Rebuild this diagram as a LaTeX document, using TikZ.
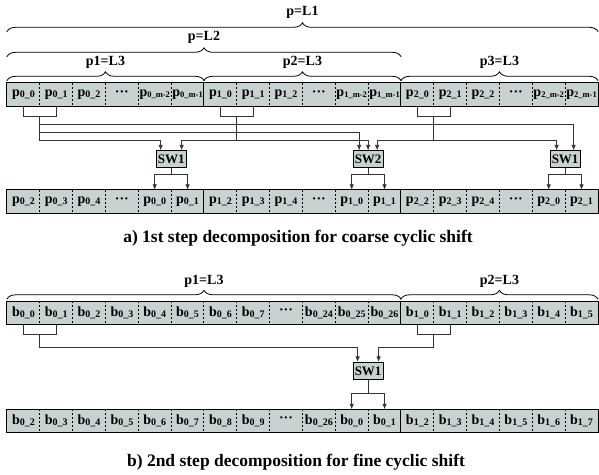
\documentclass[tikz,border=0pt]{standalone}
\usepackage{fontspec}
\setmainfont{Liberation Serif}
\usetikzlibrary{calc,arrows.meta,decorations.pathreplacing}

\definecolor{cellgray}{RGB}{200,210,208}
\newcommand{\cellab}[2]{#1\raisebox{-1.5pt}{\fontsize{10}{10}\selectfont #2}}
\newcommand{\cellabm}[2]{#1\raisebox{-1.5pt}{\fontsize{8.5}{9}\selectfont #2}}
\newcommand{\skipdots}{\raisebox{2pt}{···}}

\tikzset{
  cellbox/.style={fill=cellgray, minimum width=32.83pt, minimum height=23pt, inner sep=0pt,
    font=\bfseries\fontsize{14}{14}\selectfont},
  swbox/.style={draw, line width=0.8pt, fill=cellgray, minimum width=30pt, minimum height=17pt,
    inner sep=1pt, font=\bfseries\fontsize{13}{13}\selectfont},
  brlabel/.style={font=\bfseries\fontsize{14}{14}\selectfont},
  caption/.style={font=\bfseries\fontsize{17.5}{20}\selectfont},
  curly/.style={decorate, decoration={brace, amplitude=9pt}, line width=0.8pt},
  sep/.style={dash pattern=on 2pt off 2pt, line width=0.7pt},
  wire/.style={line width=0.8pt, black!80},
  arr/.style={wire, -{Latex[length=5.5pt,width=4.5pt]}},
}

\begin{document}
\begin{tikzpicture}[x=1pt, y=-1pt]
  \useasboundingbox (0,0) rectangle (599,474);

  % a) input row
  \foreach \lab [count=\i from 0] in {\cellab{p}{0\_0},\cellab{p}{0\_1},\cellab{p}{0\_2},\skipdots,\cellabm{p}{0\_m-2},\cellabm{p}{0\_m-1},
      \cellab{p}{1\_0},\cellab{p}{1\_1},\cellab{p}{1\_2},\skipdots,\cellabm{p}{1\_m-2},\cellabm{p}{1\_m-1},
      \cellab{p}{2\_0},\cellab{p}{2\_1},\cellab{p}{2\_2},\skipdots,\cellabm{p}{2\_m-2},\cellabm{p}{2\_m-1}}
    \node[cellbox] (a\i) at ({7+(\i+0.5)*32.83}, 94.5) {\lab};
  \draw[line width=0.8pt] (a0.north west) rectangle (a17.south east);
  \foreach \i in {1,2,3,4,5,7,8,9,10,11,13,14,15,16,17}
    \draw[sep] (a\i.north west) -- (a\i.south west);
  \foreach \i in {6,12}
    \draw[line width=0.8pt] (a\i.north west) -- (a\i.south west);

  % a) braces over the blocks
  \draw[curly] ([yshift=2pt]a0.north west) -- ([yshift=2pt]a5.north east)
    node[brlabel, midway, yshift=18pt] (lp1) {p1=L3};
  \draw[curly] ([yshift=2pt]a6.north west) -- ([yshift=2pt]a11.north east)
    node[brlabel, midway, yshift=18pt] (lp2) {p2=L3};
  \draw[curly] ([yshift=2pt]a12.north west) -- ([yshift=2pt]a17.north east)
    node[brlabel, midway, yshift=18pt] (lp3) {p3=L3};
  \draw[curly] ([yshift=26pt]a0.north west) -- ([yshift=26pt]a11.north east)
    node[brlabel, midway, yshift=19pt] (lL2) {p=L2};
  \draw[curly] ([yshift=51pt]a0.north west) -- ([yshift=51pt]a17.north east)
    node[brlabel, midway, yshift=19pt] (lL1) {p=L1};

  % a) output row
  \foreach \lab [count=\i from 0] in {\cellab{p}{0\_2},\cellab{p}{0\_3},\cellab{p}{0\_4},\skipdots,\cellab{p}{0\_0},\cellab{p}{0\_1},
      \cellab{p}{1\_2},\cellab{p}{1\_3},\cellab{p}{1\_4},\skipdots,\cellab{p}{1\_0},\cellab{p}{1\_1},
      \cellab{p}{2\_2},\cellab{p}{2\_3},\cellab{p}{2\_4},\skipdots,\cellab{p}{2\_0},\cellab{p}{2\_1}}
    \node[cellbox] (c\i) at ({7+(\i+0.5)*32.83}, 201.5) {\lab};
  \draw[line width=0.8pt] (c0.north west) rectangle (c17.south east);
  \foreach \i in {1,2,3,4,5,7,8,9,10,11,13,14,15,16,17}
    \draw[sep] (c\i.north west) -- (c\i.south west);
  \foreach \i in {6,12}
    \draw[line width=0.8pt] (c\i.north west) -- (c\i.south west);

  % a) switches
  \node[swbox] (s1) at ($(c4.north)!.5!(c5.north)+(0,-30.5)$) {SW1};
  \node[swbox] (s2) at ($(c10.north)!.5!(c11.north)+(0,-30.5)$) {SW2};
  \node[swbox] (s3) at ($(c16.north)!.5!(c17.north)+(0,-30.5)$) {SW1};

  % a) pick-up brackets
  \draw[wire] (a0.south) -- ++(0,10) -| (a1.south);
  \draw[wire] (a6.south) -- ++(0,10) -| (a7.south);
  \draw[wire] (a12.south) -- ++(0,10) -| (a13.south);
  \coordinate (j0) at ($(a0.south)!.5!(a1.south)+(0,10)$);
  \coordinate (j1) at ($(a6.south)!.5!(a7.south)+(0,10)$);
  \coordinate (j2) at ($(a12.south)!.5!(a13.south)+(0,10)$);

  % a) wires into the switches
  \draw[arr] (j0) -- ++(0,8) -| ([xshift=8.5pt]s3.north);
  \draw[arr] (j0) -- ++(0,16) -| ([xshift=-9pt]s2.north);
  \draw[arr] (j0) -- ++(0,24) -| ([xshift=-10.5pt]s1.north);
  \draw[arr] (j1) -- ++(0,24) -| ([xshift=10.5pt]s1.north);
  \draw[arr] (j1) -- ++(0,24) -| (s2.north);
  \draw[arr] (j2) -- ++(0,24) -| ([xshift=9pt]s2.north);
  \draw[arr] (j2) -- ++(0,24) -| ([xshift=-8.5pt]s3.north);

  % a) switch outputs
  \draw[wire] (s1.south) -- ++(0,6) coordinate (o1);
  \draw[arr] (o1) -| (c4.north);
  \draw[arr] (o1) -| (c5.north);
  \draw[wire] (s2.south) -- ++(0,6) coordinate (o2);
  \draw[arr] (o2) -| (c10.north);
  \draw[arr] (o2) -| (c11.north);
  \draw[wire] (s3.south) -- ++(0,6) coordinate (o3);
  \draw[arr] (o3) -| (c16.north);
  \draw[arr] (o3) -| (c17.north);

  \node[caption] (capa) at (298,238) {a) 1st step decomposition for coarse cyclic shift};

  % b) input row
  \foreach \lab [count=\i from 0] in {\cellab{b}{0\_0},\cellab{b}{0\_1},\cellab{b}{0\_2},\cellab{b}{0\_3},\cellab{b}{0\_4},\cellab{b}{0\_5},
      \cellab{b}{0\_6},\cellab{b}{0\_7},\skipdots,\cellab{b}{0\_24},\cellab{b}{0\_25},\cellab{b}{0\_26},
      \cellab{b}{1\_0},\cellab{b}{1\_1},\cellab{b}{1\_2},\cellab{b}{1\_3},\cellab{b}{1\_4},\cellab{b}{1\_5}}
    \node[cellbox] (t\i) at ({7+(\i+0.5)*32.83}, 313) {\lab};
  \draw[line width=0.8pt] (t0.north west) rectangle (t17.south east);
  \foreach \i in {1,...,11,13,14,15,16,17}
    \draw[sep] (t\i.north west) -- (t\i.south west);
  \draw[line width=0.8pt] (t12.north west) -- (t12.south west);

  % b) braces
  \draw[curly] ([yshift=2pt]t0.north west) -- ([yshift=2pt]t11.north east)
    node[brlabel, midway, yshift=18pt] (lq1) {p1=L3};
  \draw[curly] ([yshift=2pt]t12.north west) -- ([yshift=2pt]t17.north east)
    node[brlabel, midway, yshift=18pt] (lq2) {p2=L3};

  % b) output row
  \foreach \lab [count=\i from 0] in {\cellab{b}{0\_2},\cellab{b}{0\_3},\cellab{b}{0\_4},\cellab{b}{0\_5},\cellab{b}{0\_6},\cellab{b}{0\_7},
      \cellab{b}{0\_8},\cellab{b}{0\_9},\skipdots,\cellab{b}{0\_26},\cellab{b}{0\_0},\cellab{b}{0\_1},
      \cellab{b}{1\_2},\cellab{b}{1\_3},\cellab{b}{1\_4},\cellab{b}{1\_5},\cellab{b}{1\_6},\cellab{b}{1\_7}}
    \node[cellbox] (d\i) at ({7+(\i+0.5)*32.83}, 421) {\lab};
  \draw[line width=0.8pt] (d0.north west) rectangle (d17.south east);
  \foreach \i in {1,...,11,13,14,15,16,17}
    \draw[sep] (d\i.north west) -- (d\i.south west);
  \draw[line width=0.8pt] (d12.north west) -- (d12.south west);

  % b) switch and wires
  \node[swbox] (s4) at ($(d10.north)!.5!(d11.north)+(0,-38.5)$) {SW1};
  \draw[wire] (t0.south) -- ++(0,10) -| (t1.south);
  \draw[wire] (t12.south) -- ++(0,10) -| (t13.south);
  \coordinate (k0) at ($(t0.south)!.5!(t1.south)+(0,10)$);
  \coordinate (k1) at ($(t12.south)!.5!(t13.south)+(0,10)$);
  \draw[arr] (k0) -- ++(0,13) -| ([xshift=-10.5pt]s4.north);
  \draw[arr] (k1) -- ++(0,13) -| ([xshift=10.5pt]s4.north);
  \draw[wire] (s4.south) -- ++(0,14) coordinate (o4);
  \draw[arr] (o4) -| (d10.north);
  \draw[arr] (o4) -| (d11.north);

  \node[caption] (capb) at (296,462) {b) 2nd step decomposition for fine cyclic shift};
\end{tikzpicture}
\end{document}
